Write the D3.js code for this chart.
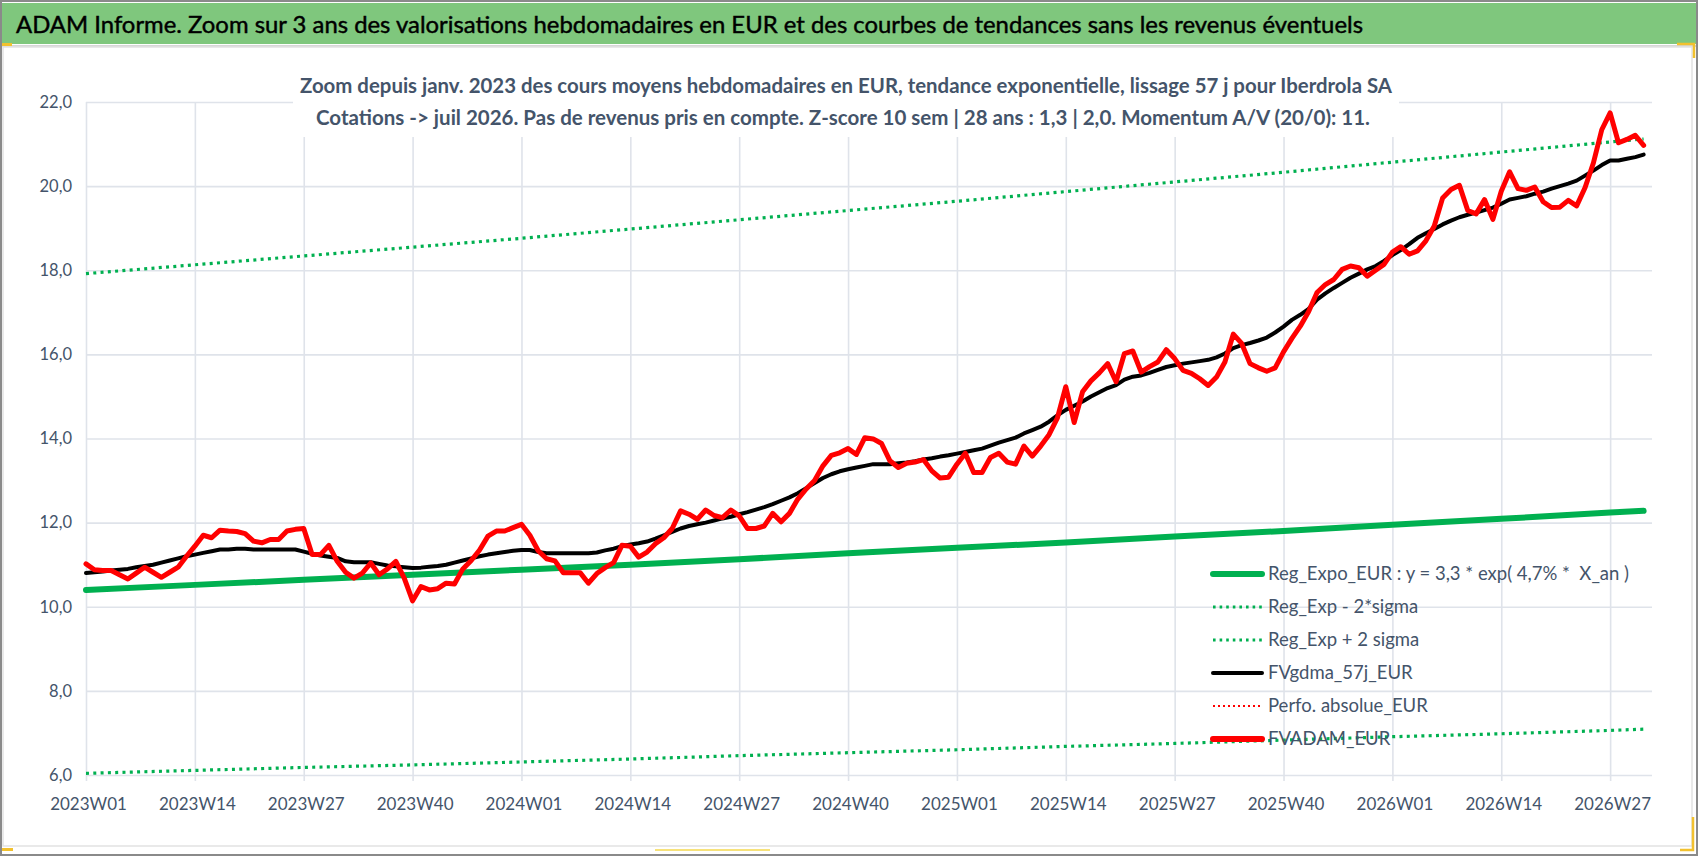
<!DOCTYPE html>
<html>
<head>
<meta charset="utf-8">
<script src="https://cdnjs.cloudflare.com/ajax/libs/d3/7.8.5/d3.min.js"></script>
<style>
body{margin:0;background:#fff;}
svg{display:block;}
text{font-family:Lato,"Open Sans",sans-serif;}
</style>
</head>
<body>
<div id="chart"></div>
<script>
//Week index of each x tick and its label
var tickWeeks = [0,13,26,39,52,65,78,91,104,117,130,143,156,169,182];
var tickLabels = ["2023W01","2023W14","2023W27","2023W40","2024W01","2024W14","2024W27","2024W40",
    "2025W01","2025W14","2025W27","2025W40","2026W01","2026W14","2026W27"];

//Y ticks
var yTicks = [6,8,10,12,14,16,18,20,22];

//Weekly values FVADAM_EUR (red), from 2023W01
var fvadam = [11.02,10.88,10.86,10.86,10.76,10.66,10.8,10.94,10.82,10.7,
    10.82,10.94,11.2,11.44,11.7,11.64,11.82,11.8,11.79,11.74,
    11.56,11.52,11.6,11.6,11.8,11.84,11.86,11.24,11.24,11.46,
    11.08,10.82,10.68,10.8,11.04,10.76,10.9,11.08,10.68,10.14,
    10.48,10.4,10.43,10.56,10.54,10.9,11.1,11.35,11.68,11.8,
    11.8,11.88,11.96,11.7,11.33,11.14,11.09,10.81,10.81,10.81,
    10.56,10.79,10.93,11.05,11.46,11.44,11.18,11.3,11.5,11.64,
    11.86,12.28,12.2,12.08,12.3,12.17,12.12,12.3,12.16,11.86,
    11.86,11.92,12.22,12.02,12.22,12.56,12.8,13.0,13.35,13.6,
    13.66,13.76,13.62,14.02,13.99,13.88,13.47,13.31,13.41,13.44,
    13.5,13.23,13.06,13.08,13.39,13.65,13.19,13.19,13.55,13.65,
    13.44,13.39,13.82,13.58,13.82,14.09,14.49,15.23,14.38,15.11,
    15.37,15.56,15.78,15.35,16.02,16.08,15.58,15.71,15.82,16.11,
    15.9,15.62,15.55,15.42,15.26,15.46,15.82,16.48,16.26,15.78,
    15.68,15.6,15.68,16.06,16.38,16.67,17.02,17.47,17.66,17.78,
    18.02,18.1,18.06,17.86,18.0,18.14,18.43,18.56,18.38,18.46,
    18.7,19.05,19.72,19.92,20.02,19.42,19.34,19.68,19.21,19.88,
    20.34,19.94,19.9,19.98,19.63,19.49,19.5,19.66,19.53,19.96,
    20.55,21.34,21.74,21.03,21.11,21.21,20.97];

//Weekly values FVgdma_57j_EUR (black)
var fvgdma = [10.8,10.82,10.84,10.86,10.88,10.9,10.94,10.97,11.0,11.05,
    11.1,11.15,11.2,11.24,11.28,11.32,11.36,11.36,11.38,11.38,
    11.36,11.36,11.36,11.36,11.36,11.36,11.31,11.26,11.22,11.19,
    11.16,11.08,11.06,11.06,11.06,11.02,10.98,10.96,10.94,10.92,
    10.93,10.95,10.97,11.0,11.05,11.1,11.15,11.2,11.24,11.27,
    11.3,11.33,11.35,11.35,11.3,11.27,11.27,11.27,11.27,11.27,
    11.27,11.29,11.34,11.38,11.44,11.48,11.51,11.55,11.62,11.7,
    11.78,11.86,11.92,11.96,12.0,12.05,12.1,12.14,12.2,12.25,
    12.31,12.37,12.44,12.52,12.6,12.7,12.82,12.94,13.06,13.15,
    13.22,13.27,13.31,13.35,13.39,13.39,13.39,13.41,13.43,13.46,
    13.5,13.53,13.57,13.6,13.64,13.68,13.72,13.76,13.83,13.9,
    13.96,14.02,14.12,14.2,14.28,14.4,14.55,14.68,14.78,14.88,
    15.0,15.1,15.2,15.27,15.4,15.47,15.5,15.56,15.63,15.7,
    15.74,15.78,15.81,15.84,15.87,15.93,16.02,16.15,16.22,16.27,
    16.33,16.4,16.52,16.66,16.82,16.94,17.08,17.3,17.45,17.58,
    17.7,17.82,17.92,18.02,18.1,18.22,18.36,18.48,18.62,18.77,
    18.88,18.98,19.09,19.18,19.26,19.32,19.37,19.43,19.49,19.58,
    19.68,19.72,19.76,19.82,19.87,19.94,20.0,20.06,20.13,20.25,
    20.37,20.5,20.61,20.61,20.65,20.69,20.75];

//Regression curves read every 13 weeks
var regWeeks = [0,13,26,39,52,65,78,91,104,117,130,143,156,169,182,186];
var regExpo = [10.4,10.52,10.64,10.76,10.88,11.0,11.13,11.27,11.4,11.53,11.67,11.8,11.95,12.09,12.24,12.28];
var regMinus = [6.04,6.11,6.18,6.24,6.31,6.38,6.46,6.53,6.6,6.68,6.75,6.83,6.91,6.98,7.06,7.09];
var regPlus = [17.92,18.13,18.34,18.55,18.76,18.98,19.2,19.42,19.64,19.87,20.1,20.33,20.57,20.81,21.05,21.12];

//Legend names
var legendNames = ["Reg_Expo_EUR : y = 3,3 * exp( 4,7% *  X_an )","Reg_Exp - 2*sigma","Reg_Exp + 2 sigma",
    "FVgdma_57j_EUR","Perfo. absolue_EUR","FVADAM_EUR"];

var title = "ADAM Informe. Zoom sur 3 ans des valorisations hebdomadaires en EUR et des courbes de tendances sans les revenus éventuels";
var sub1 = "Zoom depuis janv. 2023 des cours moyens hebdomadaires en EUR, tendance exponentielle, lissage 57 j pour Iberdrola SA";
var sub2 = "Cotations -> juil 2026. Pas de revenus pris en compte. Z-score 10 sem | 28 ans : 1,3 | 2,0. Momentum A/V (20/0): 11.";

var W = 1698, H = 856;
var plotL = 86, plotR = 1652, plotT = 102, plotB = 775;
var textColor = "#44546a";

var svg = d3.select("#chart").append("svg")
    .attr("width", W)
    .attr("height", H);

//Title bar
svg.append("rect").attr("x",2).attr("y",3).attr("width",W-4).attr("height",41).attr("fill","#7fc77d");
svg.append("line").attr("x1",2).attr("x2",W-2).attr("y1",46).attr("y2",46).attr("stroke","#d6d6d6").attr("stroke-width",2);
svg.append("text")
    .attr("x",16).attr("y",33)
    .attr("font-size",24)
    .attr("textLength",1347).attr("lengthAdjust","spacingAndGlyphs")
    .attr("fill","#000").attr("stroke","#000").attr("stroke-width",0.45)
    .text(title);

//Chart area border
svg.append("rect").attr("x",3).attr("y",47).attr("width",1689).attr("height",799)
    .attr("fill","none").attr("stroke","#e2e2e2").attr("stroke-width",1.5);

//Scales
var x = d3.scaleLinear().domain([0,187]).range([plotL,plotR]);
var y = d3.scaleLinear().domain([6,22]).range([plotB,plotT]);

//Y axis with gridlines
var yAxis = d3.axisLeft(y)
    .tickValues(yTicks)
    .tickSize(-(plotR-plotL))
    .tickPadding(14)
    .tickFormat(function(d){ return d3.format(".1f")(d).replace(".",","); });

var gy = svg.append("g").attr("transform","translate(" + plotL + ",0)").call(yAxis);
gy.select(".domain").remove();
gy.selectAll("line").attr("stroke","#dfe3ea").attr("stroke-width",1.6);
gy.selectAll("text").attr("fill",textColor).attr("font-size",16.5).attr("font-family","Lato, sans-serif");

//X axis with gridlines
var xAxis = d3.axisBottom(x)
    .tickValues(tickWeeks)
    .tickSize(-(plotB+6-plotT))
    .tickPadding(17)
    .tickFormat(function(d,i){ return tickLabels[i]; });

var gx = svg.append("g").attr("transform","translate(0," + (plotB+6) + ")").call(xAxis);
gx.select(".domain").remove();
gx.selectAll("line").attr("stroke","#dfe3ea").attr("stroke-width",1.6);
gx.selectAll("text").attr("fill",textColor).attr("font-size",17).attr("font-family","Lato, sans-serif")
    .attr("dx",2);

//Subtitle box (white, hides the gridlines)
svg.append("rect").attr("x",293).attr("y",55).attr("width",1106).attr("height",82).attr("fill","#fff");
svg.append("text")
    .attr("x",846).attr("y",93)
    .attr("text-anchor","middle")
    .attr("font-size",20).attr("font-weight","bold")
    .attr("textLength",1092).attr("lengthAdjust","spacingAndGlyphs")
    .attr("fill",textColor)
    .text(sub1);
svg.append("text")
    .attr("x",843).attr("y",125)
    .attr("text-anchor","middle")
    .attr("font-size",20).attr("font-weight","bold")
    .attr("textLength",1054).attr("lengthAdjust","spacingAndGlyphs")
    .attr("fill",textColor)
    .text(sub2);

//Line generators
var weekLine = d3.line()
    .x(function(d,i){ return x(i); })
    .y(function(d){ return y(d); });

var regLine = d3.line()
    .x(function(d,i){ return x(regWeeks[i]); })
    .y(function(d){ return y(d); });

var plot = svg.append("g");

//Regression curves
plot.append("path").datum(regMinus).attr("d",regLine)
    .attr("fill","none").attr("stroke","#00b050").attr("stroke-width",3.2).attr("stroke-dasharray","3 4.3");
plot.append("path").datum(regPlus).attr("d",regLine)
    .attr("fill","none").attr("stroke","#00b050").attr("stroke-width",3.2).attr("stroke-dasharray","3 4.3");
plot.append("path").datum(regExpo).attr("d",regLine)
    .attr("fill","none").attr("stroke","#00b050").attr("stroke-width",6).attr("stroke-linecap","round");

//Moving average
plot.append("path").datum(fvgdma).attr("d",weekLine)
    .attr("fill","none").attr("stroke","#000").attr("stroke-width",4)
    .attr("stroke-linejoin","round").attr("stroke-linecap","round");

//Weekly values
plot.append("path").datum(fvadam).attr("d",weekLine)
    .attr("fill","none").attr("stroke","#ff0000").attr("stroke-width",5)
    .attr("stroke-linejoin","round").attr("stroke-linecap","round");

//Legend
var legendStyle = [
    {color:"#00b050", width:6, dash:null},
    {color:"#00b050", width:3, dash:"2.6 4"},
    {color:"#00b050", width:3, dash:"2.6 4"},
    {color:"#000", width:4, dash:null},
    {color:"#ff0000", width:2.2, dash:"2 3"},
    {color:"#ff0000", width:6, dash:null}
];

var legend = svg.append("g").attr("transform","translate(1213,574)");
var rows = legend.selectAll("g").data(legendNames).enter().append("g")
    .attr("transform",function(d,i){ return "translate(0," + (i*33) + ")"; });

rows.append("line")
    .attr("x1",0).attr("x2",49).attr("y1",0).attr("y2",0)
    .attr("stroke",function(d,i){ return legendStyle[i].color; })
    .attr("stroke-width",function(d,i){ return legendStyle[i].width; })
    .attr("stroke-dasharray",function(d,i){ return legendStyle[i].dash; })
    .attr("stroke-linecap",function(d,i){ return legendStyle[i].dash ? "butt" : "round"; });

rows.append("text")
    .attr("x",55).attr("y",0).attr("dy","0.35em")
    .attr("font-size",18.5)
    .attr("fill",textColor)
    .style("white-space","pre")
    .text(function(d){ return d; });

//Outer frame and selection marks
svg.append("rect").attr("x",1).attr("y",1).attr("width",W-2).attr("height",H-2)
    .attr("fill","none").attr("stroke","#8a8a8a").attr("stroke-width",2);
svg.append("rect").attr("x",2).attr("y",43).attr("width",10).attr("height",3).attr("fill","#f2c12e");
svg.append("path").attr("d","M1677,44 H1694 V58").attr("fill","none").attr("stroke","#f2c12e").attr("stroke-width",2.5);
svg.append("path").attr("d","M1693,817 V850 H1680").attr("fill","none").attr("stroke","#f2c12e").attr("stroke-width",2.5);
svg.append("rect").attr("x",2).attr("y",848).attr("width",11).attr("height",3).attr("fill","#f2c12e");
svg.append("rect").attr("x",655).attr("y",849).attr("width",115).attr("height",2).attr("fill","#f7e27a");
</script>
</body>
</html>
